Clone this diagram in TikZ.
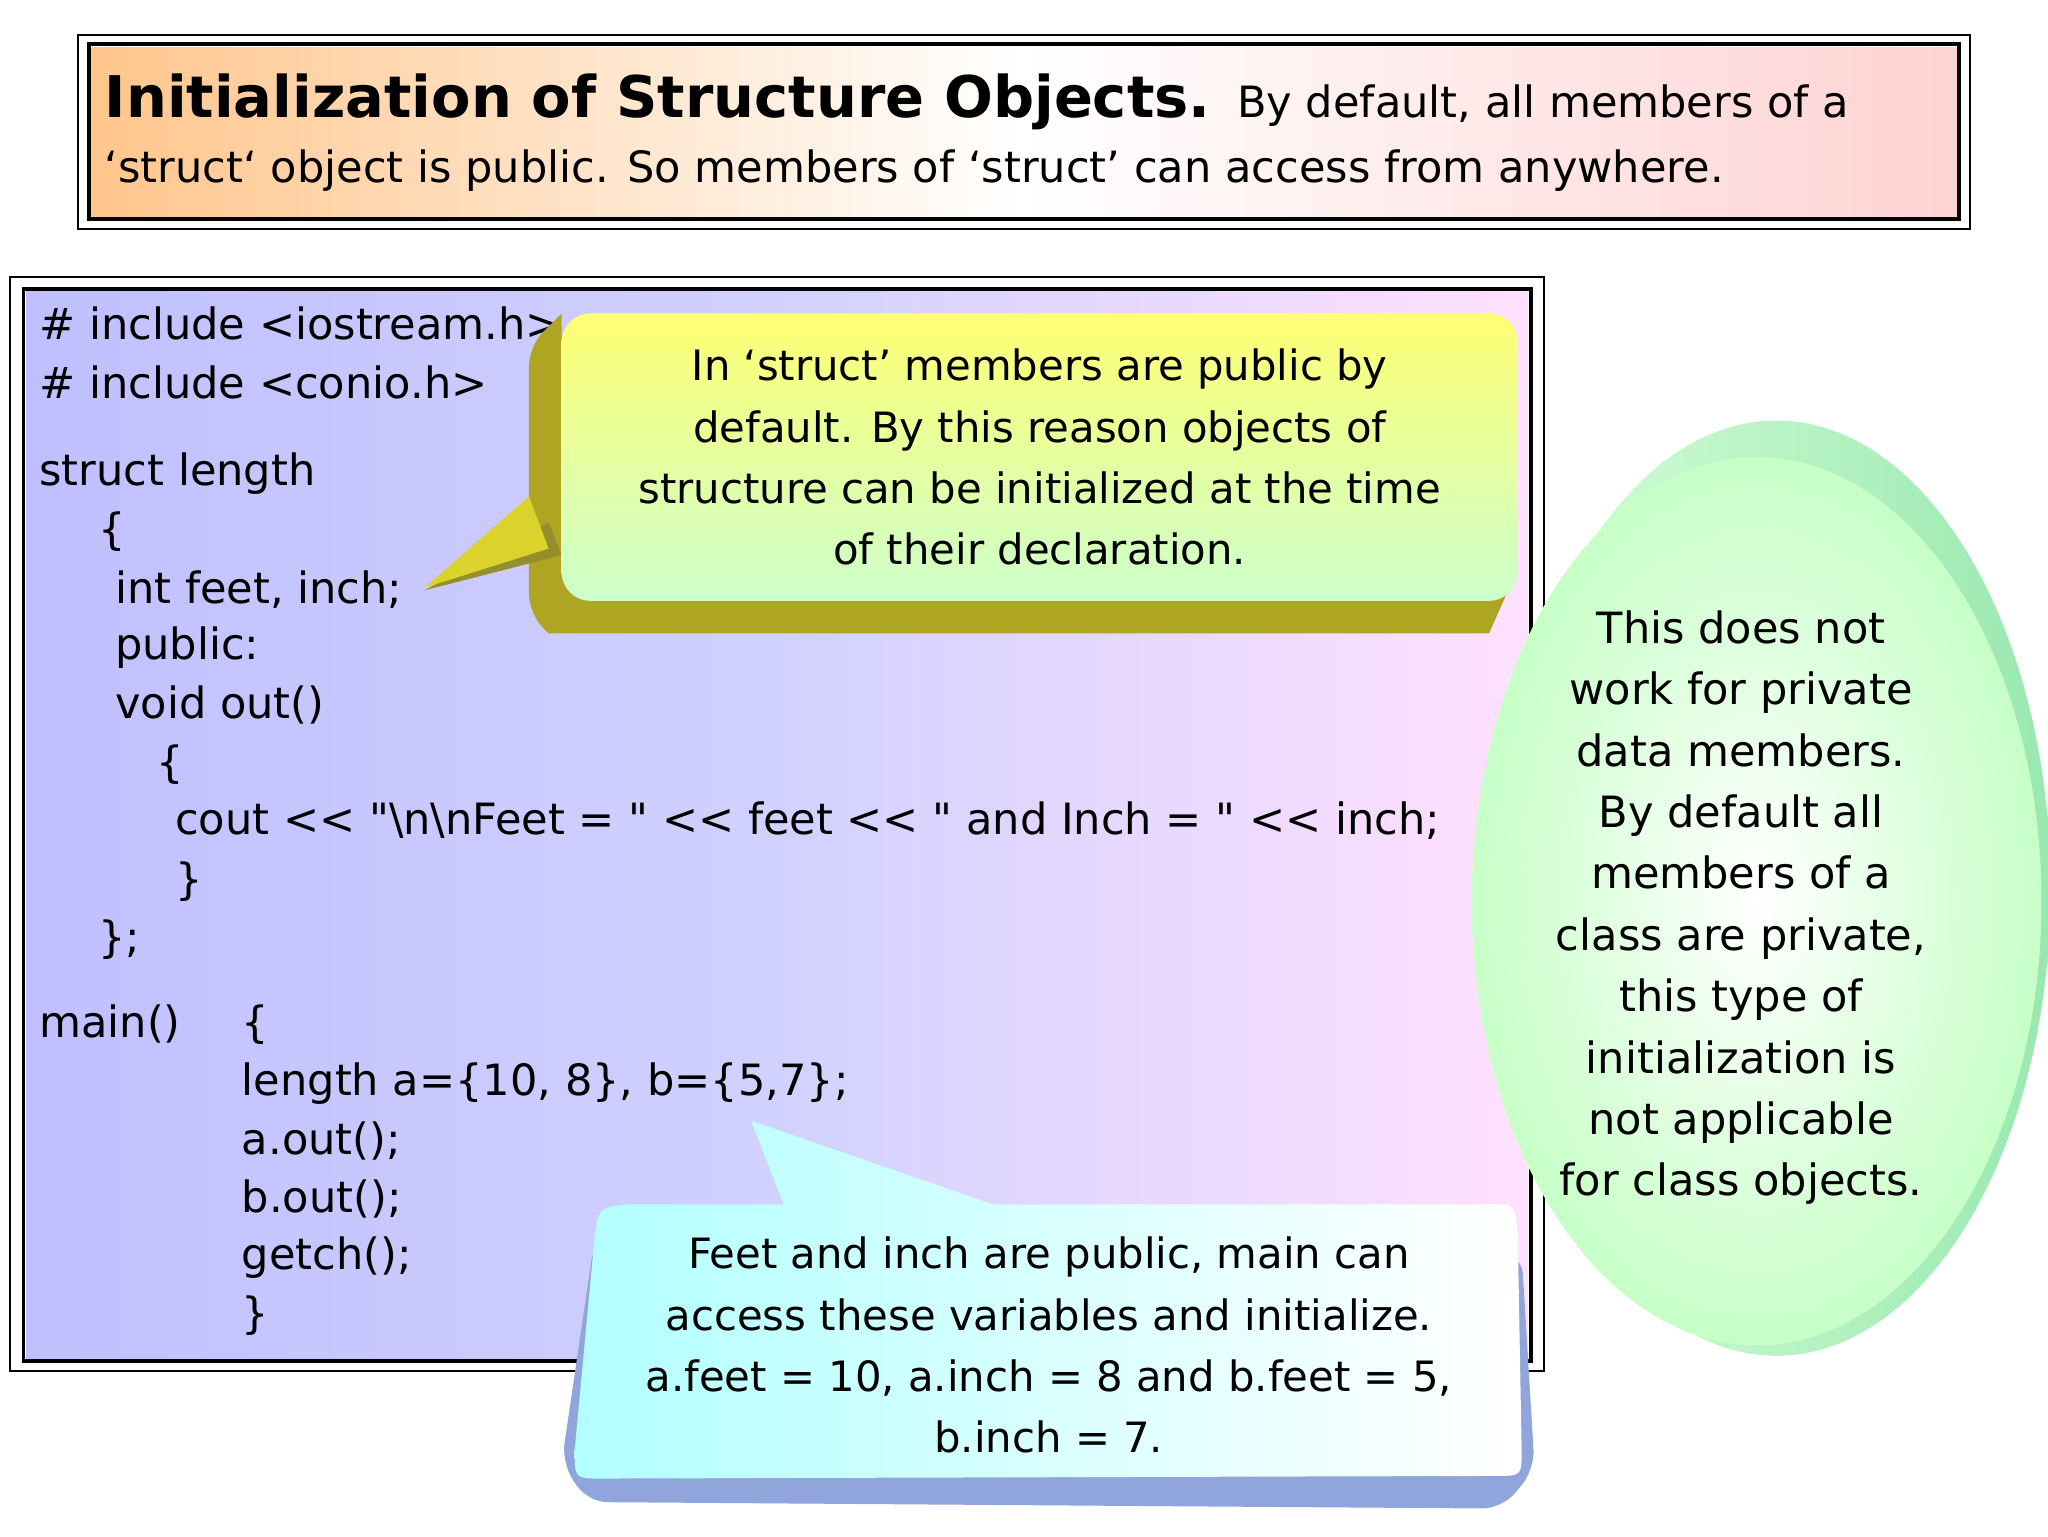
\documentclass[tikz,border=0pt]{standalone}
\usepackage{fontspec}
\setmainfont{DejaVu Sans}
\begin{document}
\begin{tikzpicture}[x=1pt,y=-1pt,
 code/.style={anchor=base west,inner sep=0,font=\fontsize{33}{38}\selectfont},
 ctext/.style={align=center,inner sep=0,font=\fontsize{32}{47}\selectfont},
 dbl/.style={draw=black,line width=1.5pt}]
\useasboundingbox (0,0) rectangle (1568,1176);
% title
\draw[dbl] (60,27) rectangle (1508,175);
\shade[left color=orange!45,right color=pink!70,middle color=white] (70,36) rectangle (1498,166);
\draw[line width=3pt] (68,34) rectangle (1500,168);
\node[anchor=base west,inner sep=0] (t1) at (80,90) {\fontsize{44}{50}\selectfont\bfseries Initialization of Structure Objects. \fontsize{33}{40}\mdseries By default, all members of a};
\node[anchor=base west,inner sep=0,font=\fontsize{33}{40}\selectfont] (t2) at (80,140) {‘struct‘ object is public. So members of ‘struct’ can access from anywhere.};
% code box
\draw[dbl] (8,212) rectangle (1182,1050);
\shade[left color=blue!25,right color=magenta!12,middle color=blue!18] (20,223) rectangle (1170,1040);
\draw[line width=3pt] (18,221) rectangle (1172,1042);
\node[code] (c1) at (30,260) {\# include <iostream.h>};
\node[code] (c2) at (30,305) {\# include <conio.h>};
\node[code] (c3) at (30,372) {struct length};
\node[code] (c4) at (75,417) {\{};
\node[code] (c5) at (88,462) {int feet, inch;};
\node[code] (c6) at (88,505) {public:};
\node[code] (c7) at (88,550) {void out()};
\node[code] (c8) at (120,595) {\{};
\node[code] (c9) at (134,639) {cout <{}< \textquotedbl\textbackslash n\textbackslash nFeet = \textquotedbl{} <{}< feet <{}< \textquotedbl{} and Inch = \textquotedbl{} <{}< inch;};
\node[code] (c10) at (134,685) {\}};
\node[code] (c11) at (75,729) {\};};
\node[code] (c12) at (30,794) {main()};
\node[code] (c13) at (185,794) {\{};
\node[code] (c14) at (185,839) {length a=\{10, 8\}, b=\{5,7\};};
\node[code] (c15) at (185,884) {a.out();};
\node[code] (c16) at (185,928) {b.out();};
\node[code] (c17) at (185,972) {getch();};
\node[code] (c18) at (185,1017) {\}};
% yellow callout
\fill[olive!40!yellow!80!black] (405,265) -- (430,240) -- (430,440) -- (1160,440) -- (1140,485) -- (420,485) [rounded corners=15pt] -- (405,470) -- cycle;
\fill[olive!50!yellow!70!black] (325,452) -- (420,400) -- (430,425) -- cycle;
\fill[yellow!60!olive!80] (325,450) -- (405,380) -- (420,420) -- cycle;
\shade[rounded corners=22pt,top color=yellow!55,bottom color=green!20] (430,240) rectangle (1162,460);
\node[ctext] (y) at (796,350) {In ‘struct’ members are public by\\default. By this reason objects of\\structure can be initialized at the time\\of their declaration.};
% green ellipse
\shade[left color=green!15,right color=teal!45!green!40] (1360,680) ellipse [x radius=210,y radius=358];
\shade[inner color=white,outer color=green!22] (1345,690) ellipse [x radius=218,y radius=340];
\node[ctext,font=\fontsize{33}{47}\selectfont] (g) at (1333,695) {This does not\\work for private\\data members.\\By default all\\members of a\\class are private,\\this type of\\initialization is\\not applicable\\for class objects.};
% blue callout
\fill[cyan!40!blue!45, rounded corners=15pt] (455,950) -- (430,1120) -- (450,1150) -- (1150,1155) -- (1175,1125) -- (1165,960) -- cycle;
\shade[left color=cyan!30,right color=white] (575,858) -- (760,922) -- (1140,922) .. controls (1160,922) .. (1162,945) -- (1165,1110) .. controls (1165,1130) .. (1145,1130) -- (460,1132) .. controls (440,1132) .. (440,1110) -- (455,950) .. controls (458,925) .. (480,922) -- (600,922) -- cycle;
\node[ctext] (b) at (803,1030) {Feet and inch are public, main can\\access these variables and initialize.\\a.feet = 10, a.inch = 8 and b.feet = 5,\\b.inch = 7.};
\end{tikzpicture}
\end{document}
